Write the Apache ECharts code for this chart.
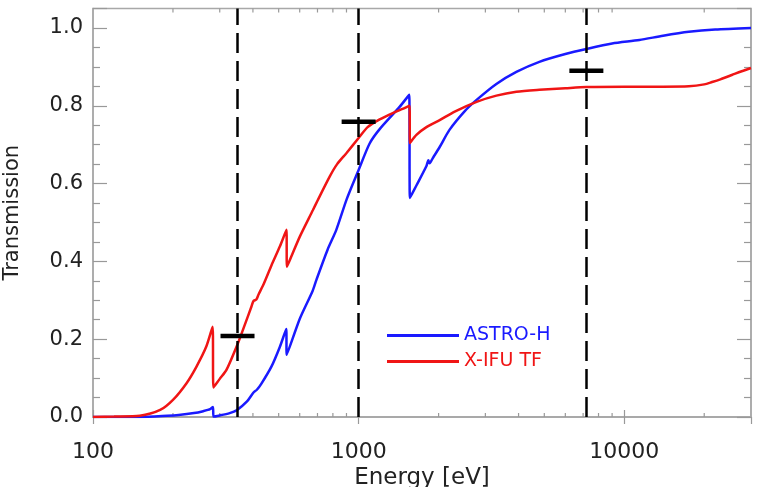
<!DOCTYPE html>
<html>
<head>
<meta charset="utf-8">
<script src="https://cdn.jsdelivr.net/npm/echarts@6/dist/echarts.min.js"></script>
<style>
html,body{margin:0;padding:0;background:#fff;}
#chart{width:759px;height:487px;}
</style>
</head>
<body>
<div id="chart"></div>
<script>
// ---- data ----
const astroE = [100,150,190,210,240,260,276,283,284,300,327,347,380,402,414,430,470,505,534,536,600,671,693,764,824,902,1000,1100,1200,1426,1550,1560,1650,1800,1830,1850,1900,2019,2198,2500,2780,3300,3925,4790,6000,7200,9000,11400,14000,17500,22000,30000];
const astroT = [0,0,0.003,0.005,0.010,0.015,0.020,0.026,0.001,0.004,0.010,0.017,0.040,0.063,0.070,0.085,0.130,0.180,0.226,0.160,0.252,0.324,0.352,0.430,0.481,0.560,0.635,0.703,0.740,0.797,0.828,0.563,0.595,0.645,0.660,0.652,0.665,0.694,0.738,0.785,0.815,0.856,0.887,0.913,0.933,0.946,0.960,0.969,0.980,0.990,0.996,1.000];

const xifuE = [100,120,150,179,200,225,245,267,282,284,300,318,351,370,395,402,412,420,440,470,505,535,537,560,600,673,700,778,830,899,1000,1081,1200,1350,1463,1555,1560,1650,1800,2019,2300,2780,3300,3925,4790,6000,7200,10000,14000,17500,20000,21400,23000,25400,27500,30000];
const xifuT = [0,0.001,0.003,0.018,0.044,0.087,0.129,0.181,0.232,0.076,0.098,0.121,0.189,0.231,0.284,0.298,0.302,0.315,0.343,0.390,0.438,0.481,0.386,0.415,0.463,0.532,0.556,0.618,0.650,0.678,0.717,0.745,0.765,0.782,0.792,0.800,0.704,0.725,0.745,0.763,0.785,0.810,0.826,0.836,0.841,0.845,0.848,0.849,0.849,0.850,0.855,0.861,0.868,0.879,0.888,0.897];

const lineEnergies = [350,1000,7200];
const crossE = [350,1000,7200];
const crossT = [0.208,0.759,0.890];

const xTickLabels = [100,1000,10000];
const xMinorTicks = [200,300,400,500,600,700,800,900,2000,3000,4000,5000,6000,7000,8000,9000,20000];

const seriesNames = ['ASTRO-H','X-IFU TF'];
const BLUE = '#1a1aff', RED = '#f01515';
const FONT = 'DejaVu Sans';
const AXC = '#a8a8a8';
const TKC = '#999999';

const chart = echarts.init(document.getElementById('chart'), null, {renderer:'canvas'});

const zip = (a,b)=>a.map((v,i)=>[v,b[i]]);

chart.setOption({
  animation:false,
  backgroundColor:'#ffffff',
  grid:{left:93,right:8,top:8.5,bottom:70,show:true,borderColor:AXC,borderWidth:1.5,
        containLabel:false, outerBoundsMode:'none'},
  legend:{
    orient:'vertical', left:382, top:321, itemWidth:72, itemHeight:3, itemGap:7,
    icon:'rect',
    data:[
      {name:seriesNames[0], textStyle:{color:BLUE}},
      {name:seriesNames[1], textStyle:{color:RED}}
    ],
    textStyle:{fontFamily:FONT,fontSize:19}
  },
  xAxis:[{
    type:'log', min:100, max:30000, logBase:10,
    name:'Energy [eV]', nameLocation:'middle', nameGap:50, nameMoveOverlap:false,
    nameTextStyle:{fontFamily:FONT,fontSize:23,color:'#222'},
    axisLine:{show:true,lineStyle:{color:AXC,width:1.5}},
    axisTick:{show:true,inside:true,length:7,lineStyle:{color:TKC,width:1.2}},
    axisLabel:{fontFamily:FONT,fontSize:22,color:'#222',margin:24,showMaxLabel:false,
      formatter:v=> xTickLabels.indexOf(Math.round(v))>=0 ? String(Math.round(v)) : ''},
    splitLine:{show:false}
  },{
    type:'log', min:100, max:30000, logBase:10, position:'top',
    axisLine:{show:true,lineStyle:{color:AXC,width:1.5}},
    axisTick:{show:true,inside:true,length:7,lineStyle:{color:TKC,width:1.2}},
    axisLabel:{show:false}, splitLine:{show:false}
  }],
  yAxis:[{
    type:'value', min:0, max:1.05, interval:0.2,
    name:'Transmission', nameLocation:'middle', nameGap:70, nameMoveOverlap:false,
    nameTextStyle:{fontFamily:FONT,fontSize:21,color:'#222'},
    axisLine:{show:true,lineStyle:{color:AXC,width:1.5}},
    axisTick:{show:true,inside:true,length:14,lineStyle:{color:TKC,width:1.2}},
    minorTick:{show:true,splitNumber:4,length:7,lineStyle:{color:TKC,width:1.2}},
    axisLabel:{fontFamily:FONT,fontSize:21,color:'#222',margin:10,showMaxLabel:false,
      formatter:v=>v.toFixed(1)},
    splitLine:{show:false}
  },{
    type:'value', min:0, max:1.05, interval:0.2, position:'right',
    axisLine:{show:true,lineStyle:{color:AXC,width:1.5}},
    axisTick:{show:true,inside:true,length:14,lineStyle:{color:TKC,width:1.2}},
    minorTick:{show:true,splitNumber:4,length:7,lineStyle:{color:TKC,width:1.2}},
    axisLabel:{show:false}, splitLine:{show:false}
  }],
  series:[
    {
      type:'custom', name:'minorTicks', xAxisIndex:0, yAxisIndex:0, silent:true,
      data:xMinorTicks.map(e=>[e]),
      encode:{x:0},
      clip:false,
      renderItem:function(params, api){
        const pb = api.coord([api.value(0), 0]);
        const pt = api.coord([api.value(0), 1.05]);
        const st = {stroke:TKC, lineWidth:1.2};
        return {type:'group', children:[
          {type:'line', shape:{x1:pb[0],y1:pb[1],x2:pb[0],y2:pb[1]-4}, style:st},
          {type:'line', shape:{x1:pt[0],y1:pt[1],x2:pt[0],y2:pt[1]+4}, style:st}
        ]};
      },
      z:1
    },
    {
      name:seriesNames[0], type:'line', data:zip(astroE,astroT), showSymbol:false,
      smooth:0.25,
      lineStyle:{color:BLUE,width:2.5}, itemStyle:{color:BLUE}, z:3
    },
    {
      name:seriesNames[1], type:'line', data:zip(xifuE,xifuT), showSymbol:false,
      smooth:0.25,
      lineStyle:{color:RED,width:2.5}, itemStyle:{color:RED}, z:3,
      markLine:{
        silent:true, symbol:['none','none'], label:{show:false},
        lineStyle:{color:'#000',type:[20,8],width:2.5,opacity:1},
        data:lineEnergies.map(e=>({xAxis:e}))
      }
    },
    {
      name:'cross', type:'scatter', data:zip(crossE,crossT),
      symbol:'rect', symbolSize:[34,4.5], itemStyle:{color:'#000',opacity:1}, z:5
    }
  ]
});
</script>
</body>
</html>
